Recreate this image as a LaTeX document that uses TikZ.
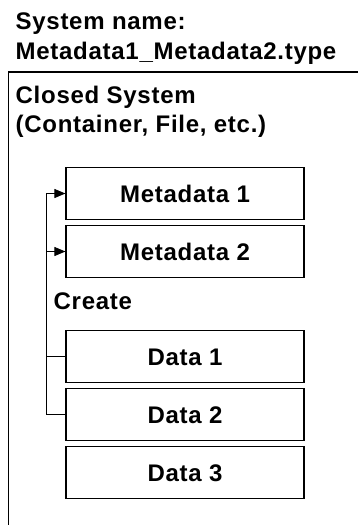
\documentclass[tikz,border=0pt]{standalone}
\usepackage{fontspec}
\setmainfont{Liberation Sans}[LetterSpace=3]
\usetikzlibrary{arrows.meta}

\tikzset{
  label text/.style={font=\fontsize{24}{30}\selectfont\bfseries, inner sep=0pt, anchor=base west},
  databox/.style={draw, line width=1.2pt, minimum width=238pt, minimum height=52pt,
    inner sep=0pt, text height=17.2pt, text depth=0pt,
    font=\fontsize{24}{30}\selectfont\bfseries},
  link/.style={line width=1pt},
  feed/.style={link, -{Triangle[length=11pt,width=9pt]}}
}

\begin{document}
\begin{tikzpicture}[x=1pt,y=-1pt]
  \useasboundingbox (0,0) rectangle (357,525);

  % file name above the container
  \node[label text] (name1) at (15.5,29.5) {System name:};
  \node[label text] (name2) at (15.5,59) {Metadata1\_Metadata2.type};

  % the closed system; it runs on past the right and lower edges
  \draw[line width=1.2pt] (380,72) -- (8.5,72) -- (8.5,560);
  \node[label text] (sys1) at (15.5,103) {Closed System};
  \node[label text] (sys2) at (15.5,132.5) {(Container, File, etc.)};

  % stored items
  \node[databox] (meta1) at (185,193.5) {Metadata 1};
  \node[databox] (meta2) at (185,251.5) {Metadata 2};
  \node[label text] (create) at (53.5,309.5) {Create};
  \node[databox] (data1) at (185,356.5) {Data 1};
  \node[databox] (data2) at (185,414.5) {Data 2};
  \node[databox] (data3) at (185,472.5) {Data 3};

  % data feeding the metadata
  \coordinate (bus) at (46.5,0);
  \draw[feed] (data2.west) -- (bus |- data2.west) -- (bus |- meta1.west) -- (meta1.west);
  \draw[feed] (bus |- meta2.west) -- (meta2.west);
  \draw[link] (bus |- data1.west) -- (data1.west);
\end{tikzpicture}
\end{document}
